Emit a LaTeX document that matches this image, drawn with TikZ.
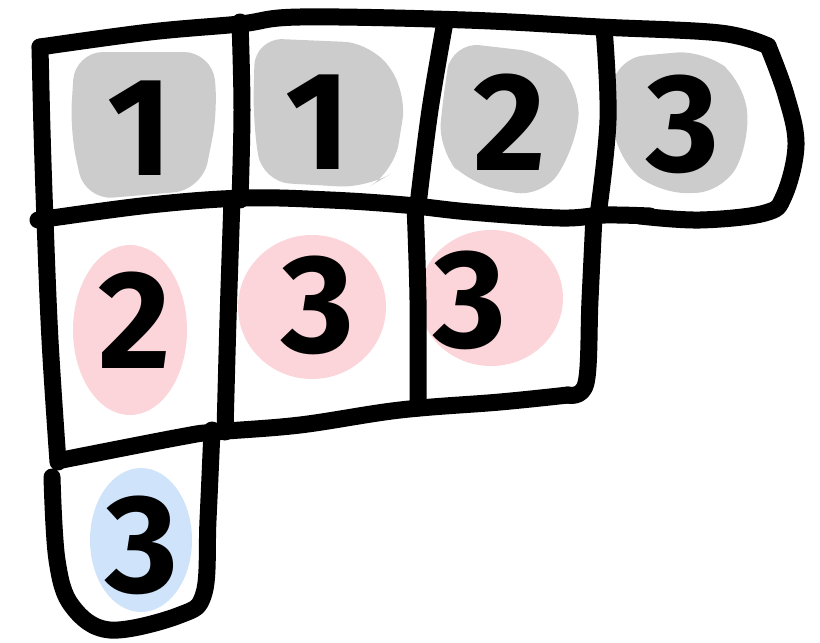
\documentclass[tikz,border=0pt]{standalone}
\usepackage{fontspec}
\setmainfont{Fira Sans}
\definecolor{cellgray}{HTML}{CCCCCC}
\definecolor{cellpink}{HTML}{FBD5D9}
\definecolor{cellblue}{HTML}{CFE3FB}
\tikzset{
  edge/.style={line width=17pt, line cap=round, line join=round},
  blob/.style={rounded corners=28pt},
  digit/.style={font=\fontsize{140}{140}\selectfont\bfseries, inner sep=0pt}
}
\begin{document}
\begin{tikzpicture}[x=1pt, y=-1pt]
  \useasboundingbox (0,0) rectangle (820,643);
  % coloured patches behind the entries
  \fill[cellgray, blob] (75,52) -- (212,52) -- (218,110) -- (202,190) -- (85,200) -- (70,130) -- cycle;
  \fill[cellgray, blob] (255,38) -- (372,43) -- (407,92) -- (394,172) -- (367,188) -- (262,182) -- (253,120) -- cycle;
  \fill[cellgray, blob] (452,42) -- (547,53) -- (582,92) -- (574,150) -- (542,198) -- (470,184) -- (438,150) -- (444,90) -- cycle;
  \fill[cellgray, blob] (616,58) -- (704,50) -- (744,82) -- (750,140) -- (724,192) -- (660,194) -- (618,160) -- (610,100) -- cycle;
  \fill[cellpink] (130,330) ellipse (57 and 85);
  \fill[cellpink] (312,307) ellipse (74 and 72);
  \fill[cellpink] (491,298) ellipse (72 and 68);
  \fill[cellblue] (141,540) ellipse (51 and 72);

  % grid
  \draw[edge] plot[smooth, tension=.6] coordinates {(40,47) (150,32) (240,24) (300,17) (465,20) (600,27) (720,33) (768,46)};
  \draw[edge] plot[smooth, tension=.6] coordinates {(768,46) (786,95) (796,145) (784,196) (765,213) (700,220) (640,216)};
  \draw[edge] plot[smooth, tension=.6] coordinates {(38,220) (150,205) (245,198) (330,200) (405,205) (470,212) (560,218) (605,215) (650,216)};
  \draw[edge] plot[smooth, tension=.6] coordinates {(62,460) (180,437) (215,432) (300,425) (400,410) (500,402) (568,395)};
  \draw[edge] plot[smooth, tension=.6] coordinates {(568,395) (586,383) (590,300) (594,216)};
  \draw[edge] plot[smooth, tension=.6] coordinates {(40,47) (42,130) (45,220) (50,340) (58,462)};
  \draw[edge] plot[smooth, tension=.6] coordinates {(52,477) (57,560) (72,606) (110,630) (180,615) (204,593) (208,520) (212,430)};
  \draw[edge] plot[smooth, tension=.6] coordinates {(240,22) (242,110) (240,200)};
  \draw[edge] plot[smooth, tension=.6] coordinates {(445,22) (430,110) (418,205)};
  \draw[edge] plot[smooth, tension=.6] coordinates {(604,28) (608,120) (598,215)};
  \draw[edge] plot[smooth, tension=.6] coordinates {(232,200) (228,320) (225,432)};
  \draw[edge] plot[smooth, tension=.6] coordinates {(415,205) (418,300) (418,408)};

  % entries
  \node[digit] (a1) at (140,128) {1};
  \node[digit] (a2) at (318,122) {1};
  \node[digit] (a3) at (510,122) {2};
  \node[digit] (a4) at (683,124) {3};
  \node[digit] (b1) at (135,320) {2};
  \node[digit] (b2) at (318,305) {3};
  \node[digit] (b3) at (470,300) {3};
  \node[digit] (c1) at (142,545) {3};
\end{tikzpicture}
\end{document}
